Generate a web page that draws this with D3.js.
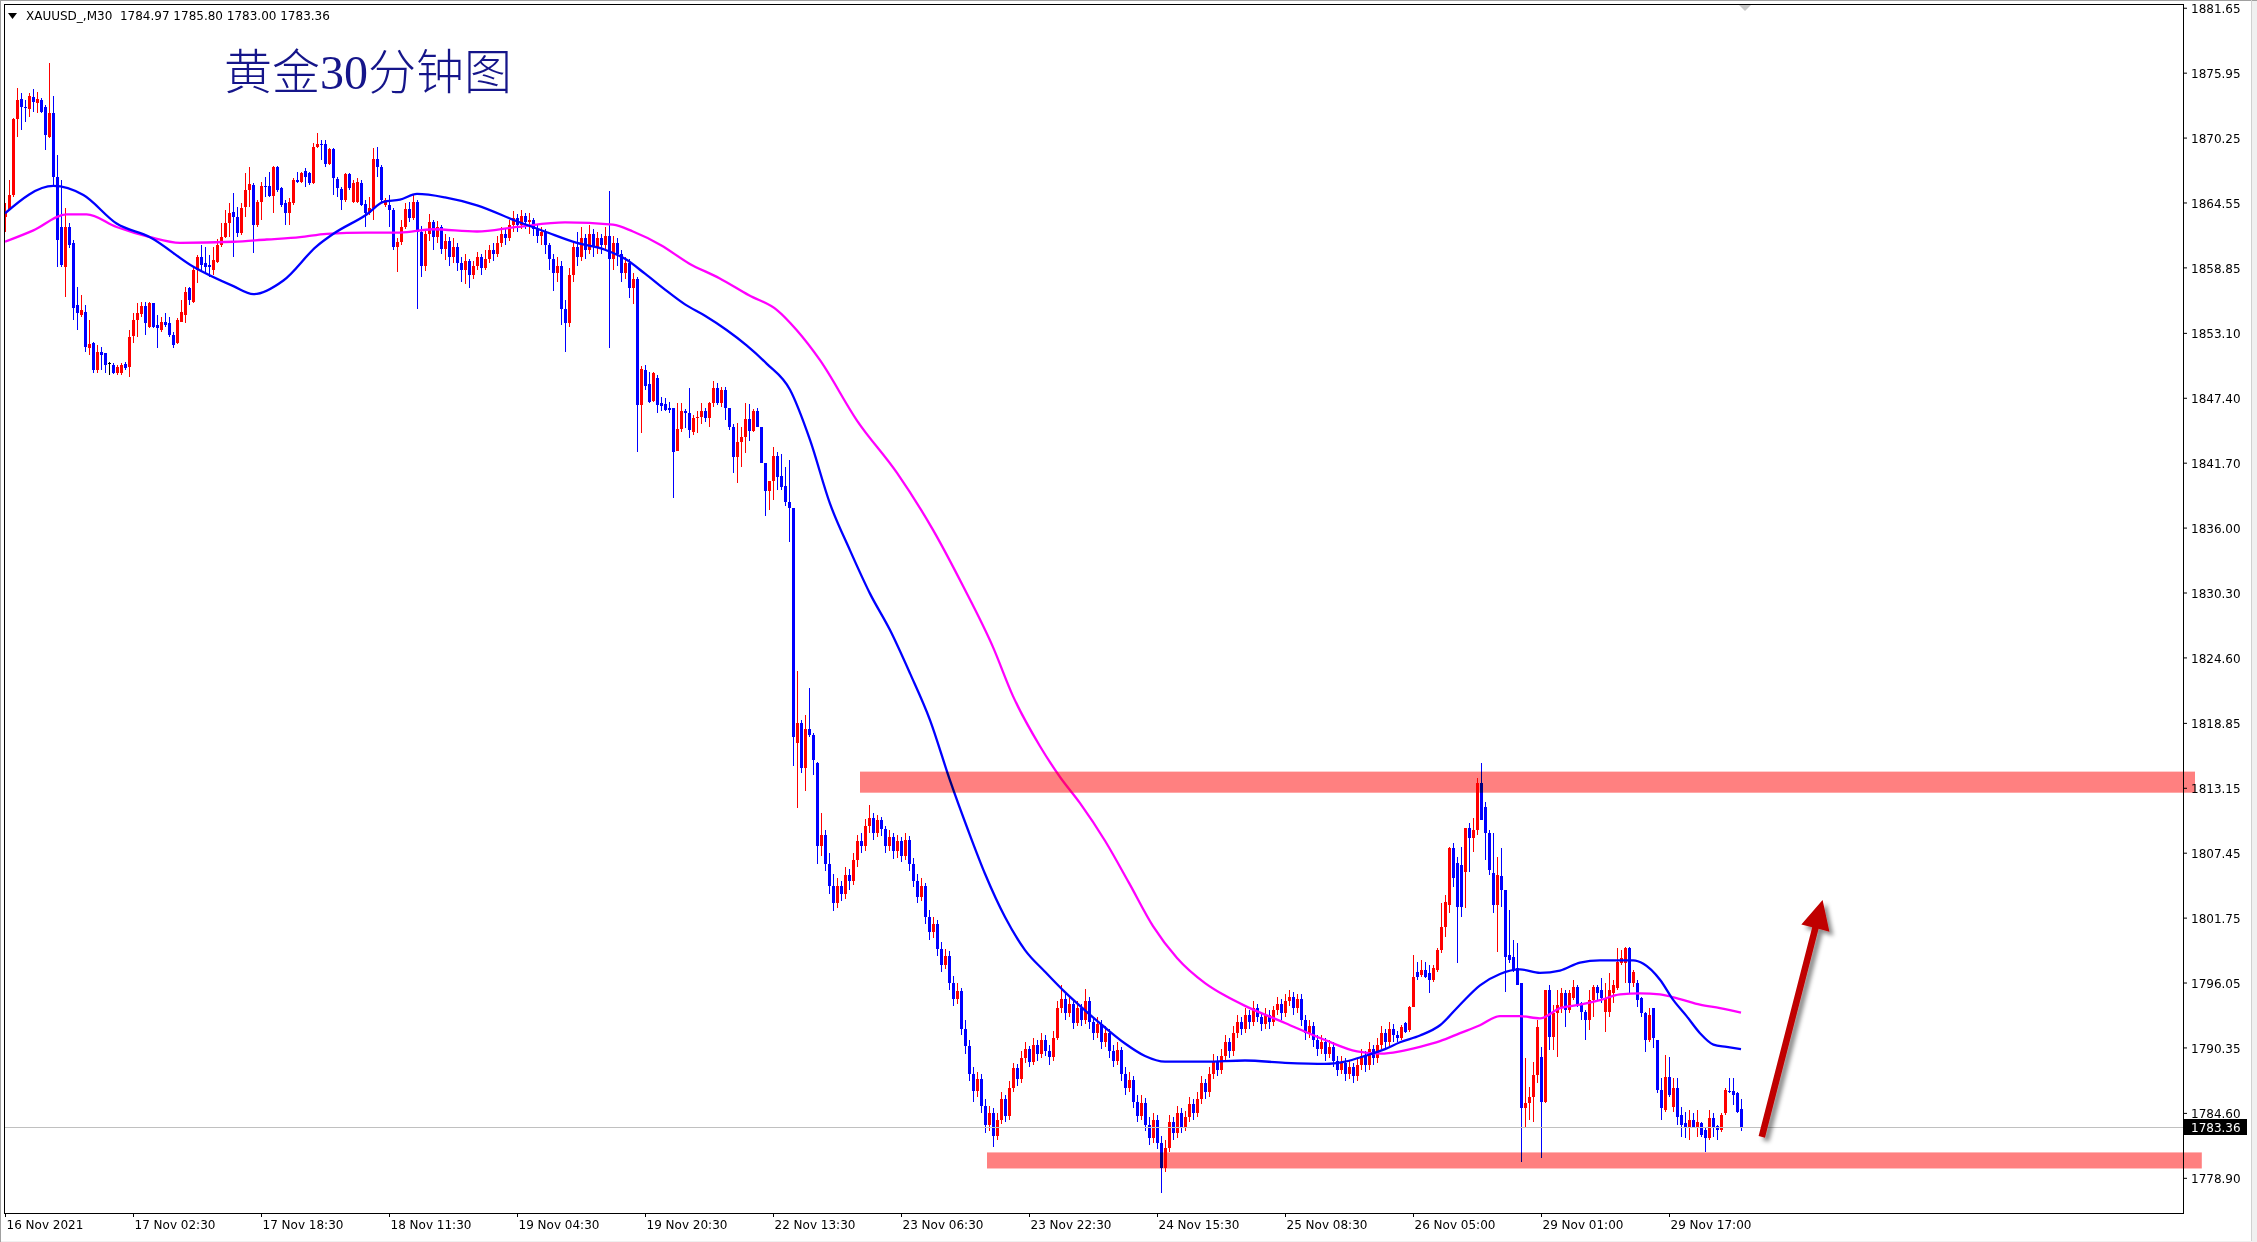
<!DOCTYPE html>
<html><head><meta charset="utf-8">
<script src="https://cdn.jsdelivr.net/npm/d3@7"></script>
<style>
html,body{margin:0;padding:0;background:#fff;overflow:hidden}
svg{display:block}
.axis text{font-family:"DejaVu Sans",Verdana,sans-serif;font-size:12px;fill:#000}
.axis line{stroke:#000}
</style></head><body>
<svg id="chart" width="2257" height="1242"></svg>
<script>
// ---------------- DATA ----------------
const symbolName = "XAUUSD_,M30";
const chartTitle = "黄金30分钟图";
const xTickBars = [0,32,64,96,128,160,192,224,256,288,320,352,384,416];
const xTickLabels = ["16 Nov 2021","17 Nov 02:30","17 Nov 18:30","18 Nov 11:30","19 Nov 04:30","19 Nov 20:30","22 Nov 13:30","23 Nov 06:30","23 Nov 22:30","24 Nov 15:30","25 Nov 08:30","26 Nov 05:00","29 Nov 01:00","29 Nov 17:00"];
const yTickValues = [1881.65,1875.95,1870.25,1864.55,1858.85,1853.10,1847.40,1841.70,1836.00,1830.30,1824.60,1818.85,1813.15,1807.45,1801.75,1796.05,1790.35,1784.60,1778.90];

const opens = [
/*0*/ 1863.3,1863.9,1865.2,1871.9,1873.61,1872.97,1872.76,1873.84,1873.26,1873.55,
/*10*/1872.97,1870.33,1872.38,1866.82,1862.43,1858.92,1862.43,1860.97,1855.55,1854.67,
/*20*/1854.97,1851.75,1852.18,1849.84,1851.45,1851.31,1850.43,1850.28,1849.55,1849.55,
/*30*/1850.37,1850.14,1852.83,1854.23,1854.73,1855.46,1853.65,1855.70,1853.79,1853.35,
/*40*/1854.09,1853.94,1852.92,1852.18,1854.09,1854.67,1857.01,1855.84,1858.62,1859.79,
/*50*/1859.21,1859.06,1858.62,1859.35,1860.82,1861.55,1862.72,1863.75,1863.31,1861.84,
/*60*/1864.18,1865.65,1866.09,1862.58,1864.62,1866.03,1866.03,1865.15,1867.70,1865.80,
/*70*/1864.48,1863.60,1864.48,1866.53,1866.38,1867.32,1867.11,1866.23,1869.40,1869.69,
/*80*/1869.69,1867.93,1869.22,1866.59,1865.71,1864.77,1867.02,1864.62,1864.62,1866.29,
/*90*/1864.39,1863.60,1864.04,1868.37,1867.70,1864.33,1864.33,1863.89,1860.67,1861.11,
/*100*/1862.4,1864.0,1863.2,1864.6,1862.0,1859.0,1861.8,1862.8,1861.5,1862.4,
/*110*/1860.5,1861.2,1859.8,1860.6,1859.2,1858.6,1859.4,1858.2,1859.0,1859.8,
/*120*/1858.8,1859.6,1860.4,1860.0,1861.0,1861.8,1861.4,1862.6,1863.2,1862.6,
/*130*/1863.4,1862.8,1863.0,1862.2,1861.6,1862.0,1860.8,1859.6,1858.4,1859.0,
/*140*/1855.2,1854.0,1858.2,1860.6,1859.8,1861.4,1860.4,1861.8,1860.6,1861.4,
/*150*/1860.8,1861.6,1859.6,1861.0,1860.0,1858.4,1859.2,1857.0,1857.8,1846.76,
/*160*/1849.84,1848.61,1847.14,1849.11,1846.91,1846.85,1846.47,1846.47,1842.75,1844.63,
/*170*/1846.27,1846.03,1844.42,1845.59,1845.74,1846.24,1845.59,1846.91,1848.23,1846.91,
/*180*/1848.08,1846.47,1844.80,1842.23,1843.54,1843.93,1845.51,1844.51,1846.27,1844.80,
/*190*/1841.70,1839.24,1840.12,1842.29,1840.53,1839.65,1838.28,1837.69,1817.11,1818.87,
/*200*/1814.86,1818.28,1817.79,1815.3,1808.0,1809.0,1806.5,1804.5,1803.0,1804.5,
/*210*/1803.8,1805.5,1805.0,1806.8,1808.5,1808.0,1809.8,1810.5,1809.2,1810.3,
/*220*/1809.5,1808.0,1808.8,1807.6,1808.5,1807.2,1808.6,1806.5,1805.0,1803.6,
/*230*/1804.5,1801.8,1800.5,1801.2,1799.0,1797.6,1798.4,1796.0,1794.6,1795.3,
/*240*/1792.0,1790.5,1788.0,1786.5,1787.6,1785.2,1783.5,1784.6,1782.6,1784.0,
/*250*/1785.8,1784.3,1786.8,1788.5,1787.6,1789.4,1790.2,1789.1,1790.6,1789.8,
/*260*/1791.0,1790.0,1789.5,1791.2,1793.8,1794.6,1793.4,1794.2,1792.5,1793.8,
/*270*/1792.8,1794.4,1792.6,1791.6,1792.4,1790.8,1791.6,1790.0,1789.2,1790.1,
/*280*/1788.0,1786.8,1787.5,1785.6,1784.3,1785.5,1783.5,1782.4,1784.0,1782.0,
/*290*/1779.8,1781.5,1783.8,1782.8,1784.6,1783.4,1784.2,1785.4,1784.6,1785.8,
/*300*/1787.2,1786.4,1788.0,1789.2,1788.4,1789.6,1790.8,1790.0,1791.6,1792.6,
/*310*/1792.0,1793.2,1792.6,1793.8,1793.0,1792.4,1793.2,1792.6,1793.6,1794.2,
/*320*/1793.4,1794.4,1794.8,1793.8,1794.6,1792.8,1791.6,1792.2,1791.0,1790.2,
/*330*/1790.8,1789.8,1790.4,1789.2,1788.4,1789.0,1788.0,1788.6,1787.8,1788.8,
/*340*/1789.6,1788.8,1790.2,1789.4,1790.6,1791.6,1790.8,1792.0,1791.4,1791.15,
/*350*/1792.47,1791.88,1793.93,1797.00,1796.71,1797.15,1796.86,1796.27,1797.15,1798.91,
/*360*/1800.96,1802.86,1807.84,1806.52,1806.37,1805.79,1809.59,1808.71,1809.45,1813.54,
/*370*/1811.49,1809.15,1805.64,1802.86,1805.41,1804.18,1798.47,1798.26,1797.30,1795.98,
/*380*/1785.00,1785.45,1786.03,1787.93,1789.54,1785.59,1795.40,1791.30,1793.35,1793.93,
/*390*/1795.10,1793.64,1794.66,1795.69,1794.22,1793.49,1792.76,1794.52,1795.69,1795.40,
/*400*/1793.49,1793.49,1795.10,1795.54,1797.74,1797.74,1799.05,1795.98,1795.98,1794.66,
/*410*/1793.35,1791.00,1793.79,1791.00,1786.61,1784.86,1787.79,1785.15,1786.76,1784.42,
/*420*/1783.69,1783.25,1783.98,1783.39,1783.75,1783.10,1782.37,1784.13,1783.45,1783.10,
/*430*/1784.57,1786.56,1786.56,1786.32,1784.97
];
const highs = [
/*0*/ 1864.5,1866.5,1872.0,1874.58,1874.14,1873.55,1874.14,1874.49,1874.28,1873.70,
/*10*/1873.11,1876.83,1873.90,1868.72,1866.53,1864.04,1862.72,1861.26,1857.16,1856.43,
/*20*/1855.55,1854.23,1852.33,1852.04,1851.89,1851.31,1850.57,1850.43,1850.28,1850.43,
/*30*/1850.57,1853.35,1854.82,1855.70,1855.84,1855.84,1855.84,1855.70,1854.67,1854.53,
/*40*/1854.88,1854.53,1853.21,1854.38,1855.99,1857.16,1857.16,1858.92,1859.94,1860.82,
/*50*/1860.67,1859.94,1860.67,1861.32,1862.72,1863.89,1864.48,1865.36,1864.18,1864.48,
/*60*/1867.11,1867.70,1866.23,1864.77,1866.38,1866.82,1867.26,1867.76,1867.76,1865.94,
/*70*/1864.77,1864.92,1866.67,1867.26,1867.26,1867.55,1867.26,1869.75,1870.62,1870.04,
/*80*/1870.04,1869.31,1869.31,1866.82,1865.94,1867.11,1867.17,1866.53,1866.67,1866.53,
/*90*/1864.77,1865.06,1869.31,1869.45,1867.84,1864.92,1865.21,1864.04,1861.40,1863.0,
/*100*/1864.5,1864.6,1865.2,1864.8,1862.5,1862.2,1863.5,1863.0,1862.9,1862.6,
/*110*/1861.8,1861.5,1861.4,1861.0,1859.8,1860.0,1859.6,1859.4,1860.2,1860.0,
/*120*/1860.4,1860.8,1861.0,1861.6,1862.4,1862.2,1863.0,1863.8,1863.5,1863.9,
/*130*/1863.6,1863.6,1863.2,1862.6,1862.4,1862.2,1861.0,1860.0,1859.8,1859.4,
/*140*/1856.0,1858.8,1861.2,1862.0,1862.4,1861.8,1862.6,1862.2,1862.0,1861.8,
/*150*/1862.4,1865.6,1861.6,1861.4,1860.4,1859.8,1859.6,1858.4,1858.0,1850.19,
/*160*/1850.28,1849.69,1849.69,1849.40,1847.50,1847.35,1847.06,1846.47,1846.91,1846.91,
/*170*/1846.38,1848.23,1845.89,1846.27,1846.97,1846.47,1847.06,1848.90,1848.67,1848.37,
/*180*/1848.32,1846.47,1845.10,1845.15,1844.86,1846.91,1846.85,1846.38,1846.47,1844.86,
/*190*/1841.70,1840.12,1843.11,1842.67,1842.46,1841.35,1841.93,1837.69,1823.44,1819.10,
/*200*/1819.54,1821.88,1817.93,1815.4,1810.9,1809.4,1807.4,1805.6,1805.2,1805.0,
/*210*/1806.2,1806.0,1807.4,1809.0,1809.2,1810.4,1811.6,1810.9,1810.8,1810.6,
/*220*/1809.8,1809.4,1809.2,1809.0,1808.8,1809.2,1808.9,1807.0,1805.6,1805.2,
/*230*/1804.8,1802.4,1801.8,1801.5,1799.6,1799.0,1798.8,1796.6,1796.0,1795.6,
/*240*/1792.8,1791.0,1788.6,1788.2,1788.0,1785.8,1785.2,1785.0,1784.6,1786.4,
/*250*/1786.2,1787.4,1789.0,1788.9,1790.0,1790.8,1790.5,1791.2,1791.0,1791.6,
/*260*/1791.4,1790.6,1791.8,1794.4,1795.8,1795.0,1794.8,1794.6,1794.4,1794.2,
/*270*/1795.5,1794.8,1793.0,1793.0,1792.8,1792.2,1792.0,1790.6,1790.8,1790.4,
/*280*/1788.6,1788.2,1787.8,1786.2,1786.2,1785.9,1784.2,1784.6,1784.4,1782.6,
/*290*/1782.2,1784.4,1784.2,1785.2,1785.0,1784.8,1786.0,1785.8,1786.4,1787.8,
/*300*/1787.6,1788.6,1789.8,1789.6,1790.2,1791.4,1791.2,1792.2,1793.2,1793.0,
/*310*/1793.8,1793.6,1794.4,1794.2,1793.4,1793.8,1793.6,1794.0,1794.8,1794.6,
/*320*/1795.0,1795.4,1795.2,1795.0,1795.0,1793.2,1792.8,1792.6,1791.4,1791.4,
/*330*/1791.2,1791.0,1790.8,1789.6,1789.6,1789.4,1789.2,1789.0,1789.4,1790.2,
/*340*/1790.0,1790.8,1790.6,1791.2,1792.2,1792.0,1792.6,1792.4,1791.8,1792.3,
/*350*/1792.6,1794.0,1798.47,1797.88,1798.03,1797.88,1797.59,1797.59,1799.05,1803.01,
/*360*/1803.74,1807.98,1808.27,1807.10,1807.98,1809.59,1810.03,1810.47,1813.98,1815.30,
/*370*/1811.93,1809.45,1809.15,1807.10,1807.84,1804.18,1802.42,1799.79,1799.49,1795.98,
/*380*/1789.40,1786.91,1789.11,1792.76,1790.42,1795.40,1795.84,1794.08,1795.40,1795.54,
/*390*/1795.40,1795.40,1796.27,1795.84,1794.37,1793.64,1795.40,1795.84,1795.84,1796.42,
/*400*/1795.98,1796.86,1796.27,1799.05,1798.91,1799.20,1799.20,1797.15,1796.27,1794.81,
/*410*/1793.49,1793.79,1793.79,1791.00,1787.64,1789.69,1789.54,1787.64,1787.64,1785.15,
/*420*/1784.71,1784.86,1784.57,1784.86,1783.84,1783.39,1784.86,1784.57,1783.54,1784.57,
/*430*/1786.76,1787.64,1787.64,1786.47,1785.80
];
const lows = [
/*0*/ 1862.0,1863.9,1865.0,1870.33,1870.92,1871.65,1872.09,1872.53,1872.38,1872.38,
/*10*/1869.16,1870.19,1866.09,1858.92,1858.92,1856.28,1860.53,1854.23,1853.35,1854.53,
/*20*/1851.45,1851.16,1849.55,1849.55,1849.84,1849.55,1849.40,1849.46,1849.40,1849.40,
/*30*/1849.84,1849.26,1852.18,1852.77,1854.53,1852.92,1853.50,1853.50,1851.75,1853.21,
/*40*/1853.65,1852.77,1851.75,1852.13,1854.09,1853.94,1855.55,1855.70,1857.45,1858.62,
/*50*/1858.33,1858.04,1858.18,1859.21,1860.67,1861.40,1861.55,1859.79,1861.55,1861.70,
/*60*/1863.31,1864.18,1860.09,1862.43,1863.01,1865.06,1865.06,1863.60,1865.50,1864.18,
/*70*/1862.58,1862.58,1864.33,1866.23,1866.23,1865.94,1866.09,1866.17,1869.31,1868.28,
/*80*/1867.70,1867.84,1865.21,1865.06,1863.89,1864.62,1865.65,1864.48,1864.48,1864.27,
/*90*/1862.43,1863.45,1863.01,1866.82,1864.48,1864.18,1862.43,1860.38,1858.48,1860.8,
/*100*/1862.2,1862.8,1863.0,1855.2,1858.0,1858.5,1861.2,1860.4,1861.0,1860.0,
/*110*/1859.5,1859.0,1859.2,1858.5,1857.6,1857.4,1857.0,1857.8,1858.6,1858.2,
/*120*/1858.6,1859.2,1859.4,1859.8,1860.6,1860.8,1861.2,1862.0,1862.0,1862.2,
/*130*/1862.2,1861.8,1861.6,1861.0,1860.8,1860.0,1858.6,1856.8,1857.6,1853.8,
/*140*/1851.4,1853.6,1857.6,1859.0,1859.4,1859.6,1860.0,1859.8,1860.0,1860.0,
/*150*/1860.4,1851.8,1858.6,1859.0,1857.6,1857.8,1856.2,1855.6,1842.67,1844.28,
/*160*/1848.08,1846.97,1847.06,1846.09,1846.27,1846.27,1846.09,1838.57,1842.75,1844.42,
/*170*/1844.72,1843.84,1844.13,1844.28,1845.10,1845.30,1844.86,1846.62,1846.76,1846.62,
/*180*/1845.45,1844.57,1840.82,1839.94,1841.35,1842.52,1843.63,1844.42,1844.80,1841.64,
/*190*/1837.02,1837.54,1838.42,1839.30,1839.30,1837.90,1834.76,1815.06,1811.35,1814.42,
/*200*/1812.90,1817.64,1814.27,1806.5,1807.2,1805.8,1803.8,1802.3,1802.6,1803.2,
/*210*/1803.4,1804.2,1804.6,1806.2,1807.4,1807.6,1809.2,1808.6,1808.8,1808.9,
/*220*/1807.4,1807.6,1806.9,1807.0,1806.6,1806.8,1805.8,1804.4,1803.0,1803.2,
/*230*/1801.2,1799.8,1800.0,1798.4,1797.0,1797.2,1795.4,1794.0,1794.2,1791.4,
/*240*/1789.8,1787.4,1785.6,1786.0,1784.6,1782.8,1783.0,1781.6,1782.2,1783.6,
/*250*/1783.8,1784.0,1786.4,1787.0,1787.2,1789.0,1788.6,1788.8,1789.2,1789.4,
/*260*/1789.6,1788.8,1789.2,1791.0,1793.4,1792.8,1793.0,1792.0,1792.2,1792.2,
/*270*/1792.4,1792.0,1791.0,1791.2,1790.2,1790.4,1789.4,1788.6,1788.8,1787.4,
/*280*/1786.2,1786.4,1785.0,1783.8,1784.0,1783.0,1781.8,1782.0,1781.4,1777.6,
/*290*/1779.4,1781.2,1782.2,1782.4,1782.8,1783.0,1783.8,1784.0,1784.2,1785.4,
/*300*/1785.8,1786.0,1787.6,1787.8,1788.0,1789.2,1789.4,1789.6,1791.2,1791.4,
/*310*/1791.6,1792.0,1792.2,1792.6,1791.8,1792.0,1792.0,1792.2,1793.2,1792.8,
/*320*/1793.0,1794.0,1793.2,1793.4,1792.2,1791.0,1791.2,1790.4,1789.6,1789.8,
/*330*/1789.2,1789.4,1788.6,1787.8,1788.0,1787.4,1787.6,1787.2,1787.4,1788.4,
/*340*/1788.2,1788.4,1788.8,1789.0,1790.2,1790.2,1790.4,1790.8,1790.8,1791.0,
/*350*/1791.6,1791.7,1793.93,1796.27,1796.57,1796.42,1795.10,1796.13,1797.00,1798.62,
/*360*/1800.08,1802.13,1804.47,1797.74,1801.84,1802.57,1805.79,1807.54,1809.01,1810.32,
/*370*/1806.81,1805.49,1802.13,1798.76,1802.71,1795.25,1797.74,1797.00,1795.84,1780.32,
/*380*/1783.25,1783.98,1783.84,1787.20,1780.61,1785.45,1790.13,1790.13,1789.54,1793.35,
/*390*/1792.18,1793.35,1794.52,1793.93,1792.76,1791.00,1791.88,1793.05,1794.52,1794.22,
/*400*/1791.74,1793.05,1794.22,1795.40,1797.59,1795.98,1795.10,1795.69,1793.93,1793.05,
/*410*/1789.98,1790.86,1790.27,1786.32,1783.98,1784.71,1786.03,1784.71,1783.54,1782.52,
/*420*/1782.37,1782.23,1783.25,1782.52,1782.52,1781.20,1782.23,1782.52,1782.23,1782.96,
/*430*/1784.42,1786.32,1785.30,1784.57,1783.00
];
const closes = [
/*0*/ 1863.6,1865.2,1871.9,1873.55,1872.97,1872.82,1873.93,1873.40,1873.61,1872.53,
/*10*/1870.48,1872.38,1866.82,1861.26,1859.06,1862.43,1860.82,1855.26,1854.82,1855.11,
/*20*/1851.89,1852.13,1849.84,1851.45,1851.16,1850.28,1850.43,1849.55,1850.14,1850.28,
/*30*/1849.99,1852.77,1854.23,1854.82,1855.46,1853.94,1855.70,1853.65,1853.50,1854.09,
/*40*/1853.79,1852.92,1852.04,1854.23,1854.97,1856.72,1855.99,1858.62,1859.79,1859.06,
/*50*/1858.92,1858.92,1859.50,1860.82,1861.55,1862.72,1863.60,1863.31,1861.84,1864.04,
/*60*/1865.65,1866.15,1862.58,1864.62,1866.03,1865.94,1865.15,1867.70,1865.65,1864.33,
/*70*/1863.60,1864.62,1866.53,1866.38,1867.11,1866.82,1866.23,1869.40,1869.69,1869.60,
/*80*/1867.93,1869.22,1866.67,1865.80,1864.77,1867.02,1865.80,1866.29,1866.38,1864.33,
/*90*/1863.60,1864.04,1868.37,1867.70,1864.77,1864.77,1863.89,1860.67,1861.11,1862.4,
/*100*/1864.0,1863.2,1864.6,1862.0,1859.0,1861.8,1862.8,1861.5,1862.4,1860.5,
/*110*/1861.2,1859.8,1860.6,1859.2,1858.6,1859.4,1858.2,1859.0,1859.8,1858.8,
/*120*/1859.6,1860.4,1860.0,1861.0,1861.8,1861.4,1862.6,1863.2,1862.6,1863.4,
/*130*/1862.8,1863.0,1862.2,1861.6,1862.0,1860.8,1859.6,1858.4,1859.0,1855.2,
/*140*/1854.0,1858.2,1860.6,1859.8,1861.4,1860.4,1861.8,1860.6,1861.4,1860.8,
/*150*/1861.6,1859.6,1861.0,1860.0,1858.4,1859.2,1857.0,1857.8,1846.76,1849.90,
/*160*/1848.43,1847.06,1849.55,1846.76,1846.68,1846.33,1846.33,1842.67,1844.63,1846.27,
/*170*/1846.03,1844.57,1845.59,1845.74,1846.24,1845.59,1846.97,1848.23,1846.91,1848.08,
/*180*/1846.47,1844.80,1842.23,1843.54,1843.93,1845.51,1844.51,1846.27,1844.86,1841.70,
/*190*/1839.24,1840.12,1842.29,1840.41,1839.59,1838.28,1837.69,1817.58,1818.87,1814.86,
/*200*/1818.28,1817.79,1815.59,1808.0,1809.0,1806.5,1804.5,1803.0,1804.5,1803.8,
/*210*/1805.5,1805.0,1806.8,1808.5,1808.0,1809.8,1810.5,1809.2,1810.3,1809.5,
/*220*/1808.0,1808.8,1807.6,1808.5,1807.2,1808.6,1806.5,1805.0,1803.6,1804.5,
/*230*/1801.8,1800.5,1801.2,1799.0,1797.6,1798.4,1796.0,1794.6,1795.3,1792.0,
/*240*/1790.5,1788.0,1786.5,1787.6,1785.2,1783.5,1784.6,1782.6,1784.0,1785.8,
/*250*/1784.3,1786.8,1788.5,1787.6,1789.4,1790.2,1789.1,1790.6,1789.8,1791.0,
/*260*/1790.0,1789.5,1791.2,1793.8,1794.6,1793.4,1794.2,1792.5,1793.8,1792.8,
/*270*/1794.4,1792.6,1791.6,1792.4,1790.8,1791.6,1790.0,1789.2,1790.1,1788.0,
/*280*/1786.8,1787.5,1785.6,1784.3,1785.5,1783.5,1782.4,1784.0,1782.0,1779.8,
/*290*/1781.5,1783.8,1782.8,1784.6,1783.4,1784.2,1785.4,1784.6,1785.8,1787.2,
/*300*/1786.4,1788.0,1789.2,1788.4,1789.6,1790.8,1790.0,1791.6,1792.6,1792.0,
/*310*/1793.2,1792.6,1793.8,1793.0,1792.4,1793.2,1792.6,1793.6,1794.2,1793.4,
/*320*/1794.4,1794.8,1793.8,1794.6,1792.8,1791.6,1792.2,1791.0,1790.2,1790.8,
/*330*/1789.8,1790.4,1789.2,1788.4,1789.0,1788.0,1788.6,1787.8,1788.8,1789.6,
/*340*/1788.8,1790.2,1789.4,1790.6,1791.6,1790.8,1792.0,1791.4,1791.2,1792.18,
/*350*/1791.74,1793.93,1796.57,1796.57,1797.15,1796.57,1796.27,1797.30,1798.91,1800.96,
/*360*/1803.15,1807.84,1805.20,1802.71,1802.71,1809.59,1808.71,1809.45,1813.54,1810.32,
/*370*/1809.15,1805.93,1802.86,1805.49,1804.18,1798.32,1798.03,1797.15,1795.84,1785.00,
/*380*/1785.45,1786.03,1787.93,1792.18,1785.59,1795.40,1791.30,1793.35,1794.08,1795.10,
/*390*/1793.64,1795.10,1795.69,1794.08,1793.49,1792.76,1794.52,1795.69,1795.10,1794.66,
/*400*/1794.66,1795.40,1795.84,1797.88,1798.18,1799.05,1795.98,1797.00,1794.52,1793.35,
/*410*/1791.00,1793.20,1791.15,1786.61,1785.00,1787.79,1786.18,1786.76,1784.27,1783.54,
/*420*/1783.25,1783.98,1783.39,1783.84,1782.66,1782.37,1784.13,1783.39,1783.10,1784.42,
/*430*/1786.61,1786.47,1786.18,1784.71,1783.36
];

// moving averages (bar index, value)
const maFastBars = [0,12.1,19.6,27.9,36.25,47.1,57.1,62.1,69.6,77.9,82.1,90.4,94.6,98.75,103,110,118,128,135,143,150,155,160,165,170,175,180.4,185.4,190.4,196.25,201.25,206.25,211.25,216.25,221.25,226.25,231.25,236.25,240.8,245,250,255,260,265,270,275,280,285,290,300,310,320,330,335,340,345,348.75,353.75,358.75,363.75,368.75,373.75,378.75,383.75,388.75,393.75,398.75,403.75,407.1,409.6,413.75,417.1,420.4,423.75,427.1,430.4,434];
const maFastValues = [1863.6,1866.0,1865.2,1862.7,1861.5,1858.9,1857.2,1856.5,1857.7,1860.7,1861.8,1863.5,1864.6,1864.8,1865.3,1865.0,1864.3,1862.9,1862.0,1861.0,1860.4,1859.6,1858.3,1856.9,1855.6,1854.6,1853.35,1852.0,1850.4,1848.1,1843.7,1838.1,1834.0,1830.2,1827.0,1823.2,1819.1,1813.8,1809.4,1805.6,1801.8,1798.9,1797.0,1795.2,1793.6,1792.1,1790.7,1789.6,1789.1,1789.1,1789.2,1789.0,1788.9,1789.1,1789.6,1790.2,1790.8,1791.4,1792.3,1794.1,1795.8,1796.8,1797.2,1796.9,1797.1,1797.8,1798.0,1798.0,1798.0,1797.7,1796.3,1794.5,1793.1,1791.6,1790.6,1790.4,1790.2];
const maSlowBars = [0,7.1,15.4,20.4,27.9,36.25,43.75,57.1,65.4,73.75,80.4,90.4,98.75,107,118,128,140,152,157,164,171,178.6,186,193,197.9,203.75,213,223,232,239.6,247,252,258.75,263.75,268.75,275,281,287,293,300,305,310,320,330,338,344,348.75,353.75,358.75,363.75,368.75,373.75,378.75,383.75,388.75,393.75,398.75,403.75,408.75,413.75,418.75,423.75,428.75,434];
const maSlowValues = [1861.1,1862.1,1863.5,1863.5,1862.4,1861.5,1861.0,1861.1,1861.3,1861.5,1861.8,1861.9,1861.9,1862.2,1862.0,1862.4,1862.8,1862.6,1862.0,1860.8,1859.2,1857.9,1856.4,1855.1,1853.35,1850.7,1845.4,1840.8,1835.8,1830.8,1825.5,1821.2,1816.8,1814.1,1811.8,1808.5,1804.8,1801.0,1798.2,1796.0,1794.9,1794.0,1792.5,1791.0,1790.0,1789.8,1790.0,1790.4,1790.9,1791.6,1792.3,1793.1,1793.1,1792.9,1793.8,1794.1,1794.5,1795.0,1795.1,1795.0,1794.6,1794.1,1793.8,1793.4];

// drawn objects (bar index / price)
const zoneFromBar = [213.75, 245.5];
const zoneToBar = [547.5, 549.2];
const zoneLow = [1812.72, 1779.72];
const zoneHigh = [1814.57, 1781.13];
const arrowBars = [439.2, 454.4];
const arrowPrices = [1782.5, 1803.3];

// ---------------- CHART ----------------
const W = 2257, H = 1242;
const plot = {left: 4, top: 4, right: 2183, bottom: 1213};
const x = d3.scaleLinear().domain([0, 544.5]).range([5, 2183]);
const y = d3.scaleLinear().domain([1775.81, 1881.98]).range([plot.bottom, plot.top]);
const svg = d3.select('#chart');
const defs = svg.append('defs');
defs.append('clipPath').attr('id','clip').append('rect')
  .attr('x', plot.left+1).attr('y', plot.top+1)
  .attr('width', plot.right-plot.left-1).attr('height', plot.bottom-plot.top-1);
const f = defs.append('filter').attr('id','shadow').attr('x','-50%').attr('y','-20%').attr('width','200%').attr('height','140%');
f.append('feDropShadow').attr('dx',4).attr('dy',4).attr('stdDeviation',2.2)
  .attr('flood-color','#000').attr('flood-opacity',0.45);

// window chrome
svg.append('rect').attr('width',W).attr('height',H).attr('fill','#fff');
svg.append('rect').attr('x',2252).attr('y',0).attr('width',W-2252).attr('height',H).attr('fill','#f0f0f0');
svg.append('rect').attr('x',0).attr('y',1241).attr('width',W).attr('height',1).attr('fill','#f0f0f0');
svg.append('line').attr('x1',0).attr('x2',W).attr('y1',0.5).attr('y2',0.5).attr('stroke','#a0a0a0');
svg.append('line').attr('x1',0.5).attr('x2',0.5).attr('y1',0).attr('y2',H).attr('stroke','#a0a0a0');
svg.append('line').attr('x1',2251.5).attr('x2',2251.5).attr('y1',0).attr('y2',1241).attr('stroke','#d0d0d0');

// candles
const candles = closes.map((c,i)=>({i, o:opens[i], h:highs[i], l:lows[i], c}));
const colorOf = d => d.c > d.o ? '#ff0000' : (d.c < d.o ? '#0000ff' : '#000000');
const cg = svg.append('g').attr('clip-path','url(#clip)').attr('shape-rendering','crispEdges');
cg.selectAll('line.wick').data(candles).join('line').attr('class','wick')
  .attr('x1', d=>Math.round(x(d.i))+0.5).attr('x2', d=>Math.round(x(d.i))+0.5)
  .attr('y1', d=>y(d.h)).attr('y2', d=>y(d.l))
  .attr('stroke', colorOf).attr('stroke-width',1);
cg.selectAll('rect.body').data(candles).join('rect').attr('class','body')
  .attr('x', d=>Math.round(x(d.i))-1).attr('width',3)
  .attr('y', d=>Math.round(y(Math.max(d.o,d.c))))
  .attr('height', d=>Math.max(1, Math.round(y(Math.min(d.o,d.c))) - Math.round(y(Math.max(d.o,d.c)))))
  .attr('fill', colorOf);

// moving averages
const maLine = d3.line().x(d=>x(d[0])).y(d=>y(d[1])).curve(d3.curveMonotoneX);
const mg = svg.append('g').attr('clip-path','url(#clip)');
mg.append('path').datum(d3.zip(maSlowBars, maSlowValues)).attr('d', maLine)
  .attr('fill','none').attr('stroke','#ff00ff').attr('stroke-width',2.3).attr('stroke-linejoin','round');
mg.append('path').datum(d3.zip(maFastBars, maFastValues)).attr('d', maLine)
  .attr('fill','none').attr('stroke','#0000ff').attr('stroke-width',2.3).attr('stroke-linejoin','round');

// current price line
const last = closes.length - 1;
svg.append('line').attr('shape-rendering','crispEdges')
  .attr('x1', plot.left).attr('x2', plot.right)
  .attr('y1', Math.round(y(closes[last]))+0.5).attr('y2', Math.round(y(closes[last]))+0.5)
  .attr('stroke','#c0c0c0');

// frame
svg.append('rect').attr('shape-rendering','crispEdges')
  .attr('x', plot.left+0.5).attr('y', plot.top+0.5)
  .attr('width', plot.right-plot.left).attr('height', plot.bottom-plot.top)
  .attr('fill','none').attr('stroke','#000');

// axes
const yAxis = d3.axisRight(y).tickValues(yTickValues).tickFormat(d3.format('.2f')).tickSize(4).tickSizeOuter(0).tickPadding(4);
svg.append('g').attr('class','axis').attr('transform',`translate(${plot.right},0)`)
  .call(yAxis).call(g=>g.select('.domain').remove())
  .call(g=>g.selectAll('text').attr('dy','0.42em'));
const xAxis = d3.axisBottom(x).tickValues(xTickBars).tickFormat((d,i)=>xTickLabels[i]).tickSize(4).tickSizeOuter(0).tickPadding(3);
svg.append('g').attr('class','axis').attr('transform',`translate(0,${plot.bottom})`)
  .call(xAxis).call(g=>g.select('.domain').remove())
  .call(g=>g.selectAll('text').attr('text-anchor','start').attr('dx','1'));

// zones (rectangles) multiply-blended over the chart
svg.append('g').selectAll('rect').data(zoneLow).join('rect')
  .attr('x', (d,i)=>x(zoneFromBar[i])).attr('width', (d,i)=>x(zoneToBar[i]) - x(zoneFromBar[i]))
  .attr('y', (d,i)=>y(zoneHigh[i])).attr('height', (d,i)=>y(zoneLow[i]) - y(zoneHigh[i]))
  .attr('fill','#ff8080').style('mix-blend-mode','multiply');

// current price label
const py = y(closes[last]);
svg.append('rect').attr('x', plot.right+1).attr('y', Math.round(py)-8).attr('width',63).attr('height',16).attr('fill','#000');
svg.append('text').attr('x', plot.right+8).attr('y', py).attr('dy','0.38em')
  .attr('font-family','"DejaVu Sans",Verdana,sans-serif').attr('font-size',12).attr('fill','#fff')
  .text(d3.format('.2f')(closes[last]));

// chart shift marker
const sx = x(closes.length);
svg.append('path').attr('d',`M${sx-6},5 L${sx+6},5 L${sx},11 Z`).attr('fill','#c8c8c8');

// header
svg.append('path').attr('d','M8,13 L17,13 L12.5,19 Z').attr('fill','#000');
svg.append('text').attr('x',26).attr('y',20).style('white-space','pre')
  .attr('font-family','"DejaVu Sans",Verdana,sans-serif').attr('font-size',12).attr('fill','#000')
  .text(`${symbolName}  ${opens[last].toFixed(2)} ${highs[last].toFixed(2)} ${lows[last].toFixed(2)} ${closes[last].toFixed(2)}`);

// title
svg.append('text').attr('x',224).attr('y',89)
  .attr('font-family','"Liberation Serif","Noto Sans CJK SC",serif').attr('font-size',48).attr('font-weight',300)
  .attr('fill','#15158a').text(chartTitle);

// arrow
const S = [x(arrowBars[0]), y(arrowPrices[0])], T = [x(arrowBars[1]), y(arrowPrices[1])];
const len = Math.hypot(T[0]-S[0], T[1]-S[1]);
const u = [(T[0]-S[0])/len, (T[1]-S[1])/len], n = [-u[1], u[0]];
const headLen = 29, headHalf = 14.5, shaftHalf = 3.3;
const B = [T[0]-u[0]*headLen, T[1]-u[1]*headLen];
const pt = (p, k, m) => [p[0]+n[0]*k+u[0]*m, p[1]+n[1]*k+u[1]*m];
const arrowPts = [pt(S,shaftHalf,0), pt(B,shaftHalf,0), pt(B,headHalf,0), T, pt(B,-headHalf,0), pt(B,-shaftHalf,0), pt(S,-shaftHalf,0)];
svg.append('path').attr('d', 'M' + arrowPts.map(p=>p.join(',')).join('L') + 'Z')
  .attr('fill','#c00000').attr('filter','url(#shadow)');
</script>
</body></html>
